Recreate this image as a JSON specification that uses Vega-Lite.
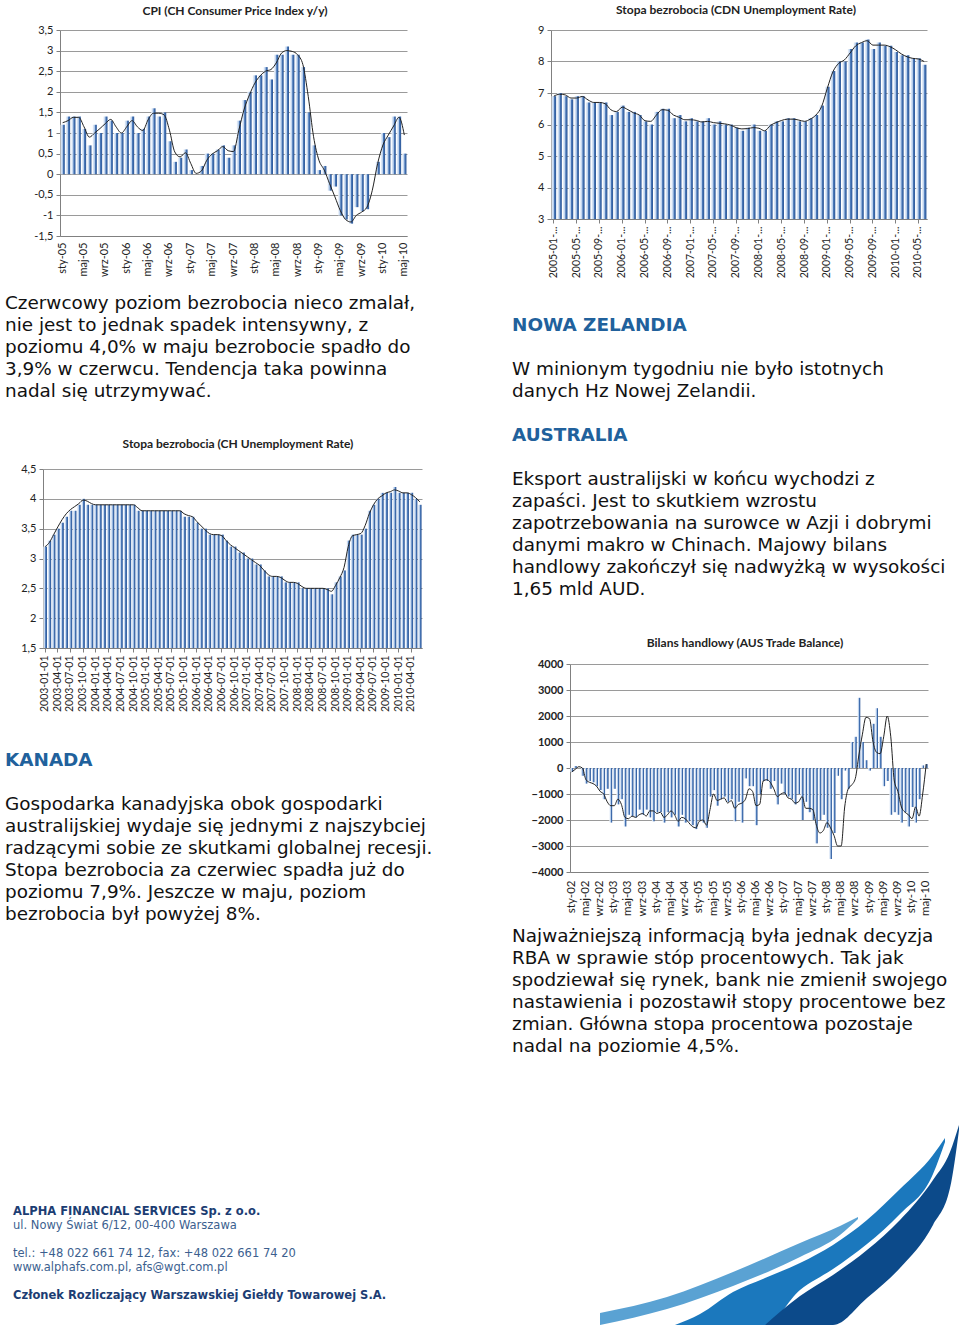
{
"$schema": "https://vega.github.io/schema/vega-lite/v6.json",
"background": "white",
"padding": {"left": 5, "top": 0, "right": 0, "bottom": 0},
"bounds": "flush",
"spacing": 507,
"config": {
  "view": {"stroke": null},
  "font": "Lato",
  "axis": {"labelFont": "Lato", "labelFontSize": 11, "labelColor": "#222", "domainColor": "#808080", "tickColor": "#808080", "gridColor": "#9a9a9a", "labelOverlap": false}
},
"datasets": {
"cpi": [
{"m":"sty-05","v":1.2,"t":1.25},{"m":"lut-05","v":1.4,"t":1.3},{"m":"mar-05","v":1.4,"t":1.38},{"m":"kwi-05","v":1.4,"t":1.38},{"m":"maj-05","v":1.1,"t":1.15},{"m":"cze-05","v":0.7,"t":0.9},{"m":"lip-05","v":1.2,"t":1.0},{"m":"sie-05","v":1.0,"t":1.11},{"m":"wrz-05","v":1.4,"t":1.23},{"m":"paź-05","v":1.3,"t":1.33},{"m":"lis-05","v":1.0,"t":1.15},{"m":"gru-05","v":1.0,"t":1.0},
{"m":"sty-06","v":1.3,"t":1.15},{"m":"lut-06","v":1.4,"t":1.3},{"m":"mar-06","v":1.0,"t":1.15},{"m":"kwi-06","v":1.1,"t":1.06},{"m":"maj-06","v":1.4,"t":1.32},{"m":"cze-06","v":1.6,"t":1.48},{"m":"lip-06","v":1.4,"t":1.48},{"m":"sie-06","v":1.5,"t":1.44},{"m":"wrz-06","v":0.8,"t":1.07},{"m":"paź-06","v":0.3,"t":0.54},{"m":"lis-06","v":0.4,"t":0.42},{"m":"gru-06","v":0.6,"t":0.52},
{"m":"sty-07","v":0.1,"t":0.26},{"m":"lut-07","v":0.0,"t":0.02},{"m":"mar-07","v":0.2,"t":0.08},{"m":"kwi-07","v":0.5,"t":0.34},{"m":"maj-07","v":0.5,"t":0.49},{"m":"cze-07","v":0.6,"t":0.57},{"m":"lip-07","v":0.7,"t":0.67},{"m":"sie-07","v":0.4,"t":0.57},{"m":"wrz-07","v":0.7,"t":0.55},{"m":"paź-07","v":1.3,"t":1.07},{"m":"lis-07","v":1.8,"t":1.58},{"m":"gru-07","v":2.0,"t":1.93},
{"m":"sty-08","v":2.4,"t":2.21},{"m":"lut-08","v":2.4,"t":2.39},{"m":"mar-08","v":2.6,"t":2.5},{"m":"kwi-08","v":2.3,"t":2.54},{"m":"maj-08","v":2.9,"t":2.7},{"m":"cze-08","v":2.9,"t":2.94},{"m":"lip-08","v":3.1,"t":3.0},{"m":"sie-08","v":2.9,"t":2.98},{"m":"wrz-08","v":2.9,"t":2.9},{"m":"paź-08","v":2.6,"t":2.66},{"m":"lis-08","v":1.5,"t":1.89},{"m":"gru-08","v":0.7,"t":0.91},
{"m":"sty-09","v":0.1,"t":0.34},{"m":"lut-09","v":0.2,"t":0.1},{"m":"mar-09","v":-0.4,"t":-0.23},{"m":"kwi-09","v":-0.3,"t":-0.55},{"m":"maj-09","v":-1.0,"t":-0.88},{"m":"cze-09","v":-1.1,"t":-1.1},{"m":"lip-09","v":-1.2,"t":-1.16},{"m":"sie-09","v":-0.8,"t":-1.0},{"m":"wrz-09","v":-0.9,"t":-0.92},{"m":"paź-09","v":-0.85,"t":-0.8},{"m":"lis-09","v":0.0,"t":-0.39},{"m":"gru-09","v":0.3,"t":0.26},
{"m":"sty-10","v":1.0,"t":0.71},{"m":"lut-10","v":0.9,"t":0.95},{"m":"mar-10","v":1.4,"t":1.17},{"m":"kwi-10","v":1.4,"t":1.38},{"m":"maj-10","v":0.5,"t":0.95}
],
"cdn": [
{"m":"2005-01-01","v":6.9,"t":6.9},{"m":"2005-02-01","v":7.0,"t":6.96},{"m":"2005-03-01","v":6.9,"t":6.94},{"m":"2005-04-01","v":6.8,"t":6.84},{"m":"2005-05-01","v":6.9,"t":6.84},{"m":"2005-06-01","v":6.9,"t":6.89},{"m":"2005-07-01","v":6.7,"t":6.78},{"m":"2005-08-01","v":6.7,"t":6.7},{"m":"2005-09-01","v":6.7,"t":6.7},{"m":"2005-10-01","v":6.7,"t":6.66},{"m":"2005-11-01","v":6.3,"t":6.47},{"m":"2005-12-01","v":6.4,"t":6.41},
{"m":"2006-01-01","v":6.6,"t":6.55},{"m":"2006-02-01","v":6.4,"t":6.47},{"m":"2006-03-01","v":6.4,"t":6.37},{"m":"2006-04-01","v":6.3,"t":6.3},{"m":"2006-05-01","v":6.1,"t":6.12},{"m":"2006-06-01","v":6.0,"t":6.1},{"m":"2006-07-01","v":6.4,"t":6.3},{"m":"2006-08-01","v":6.5,"t":6.47},{"m":"2006-09-01","v":6.5,"t":6.45},{"m":"2006-10-01","v":6.2,"t":6.3},{"m":"2006-11-01","v":6.3,"t":6.23},{"m":"2006-12-01","v":6.1,"t":6.15},
{"m":"2007-01-01","v":6.2,"t":6.15},{"m":"2007-02-01","v":6.1,"t":6.13},{"m":"2007-03-01","v":6.1,"t":6.08},{"m":"2007-04-01","v":6.2,"t":6.1},{"m":"2007-05-01","v":6.0,"t":6.06},{"m":"2007-06-01","v":6.1,"t":6.04},{"m":"2007-07-01","v":6.0,"t":6.02},{"m":"2007-08-01","v":6.0,"t":5.98},{"m":"2007-09-01","v":5.9,"t":5.9},{"m":"2007-10-01","v":5.8,"t":5.86},{"m":"2007-11-01","v":5.9,"t":5.87},{"m":"2007-12-01","v":6.0,"t":5.9},
{"m":"2008-01-01","v":5.8,"t":5.88},{"m":"2008-02-01","v":5.8,"t":5.8},{"m":"2008-03-01","v":6.0,"t":5.97},{"m":"2008-04-01","v":6.1,"t":6.06},{"m":"2008-05-01","v":6.1,"t":6.13},{"m":"2008-06-01","v":6.2,"t":6.17},{"m":"2008-07-01","v":6.2,"t":6.17},{"m":"2008-08-01","v":6.1,"t":6.14},{"m":"2008-09-01","v":6.1,"t":6.1},{"m":"2008-10-01","v":6.2,"t":6.17},{"m":"2008-11-01","v":6.3,"t":6.3},{"m":"2008-12-01","v":6.6,"t":6.57},
{"m":"2009-01-01","v":7.2,"t":7.15},{"m":"2009-02-01","v":7.7,"t":7.68},{"m":"2009-03-01","v":8.0,"t":7.94},{"m":"2009-04-01","v":8.0,"t":8.05},{"m":"2009-05-01","v":8.4,"t":8.27},{"m":"2009-06-01","v":8.6,"t":8.5},{"m":"2009-07-01","v":8.6,"t":8.6},{"m":"2009-08-01","v":8.7,"t":8.66},{"m":"2009-09-01","v":8.4,"t":8.52},{"m":"2009-10-01","v":8.6,"t":8.52},{"m":"2009-11-01","v":8.5,"t":8.52},{"m":"2009-12-01","v":8.5,"t":8.47},
{"m":"2010-01-01","v":8.3,"t":8.37},{"m":"2010-02-01","v":8.2,"t":8.24},{"m":"2010-03-01","v":8.2,"t":8.15},{"m":"2010-04-01","v":8.1,"t":8.1},{"m":"2010-05-01","v":8.1,"t":8.08},{"m":"2010-06-01","v":7.9,"t":8.0}
],
"ch": [
{"m":"2003-01-01","v":3.2,"t":3.2},{"m":"2003-02-01","v":3.3,"t":3.27},{"m":"2003-03-01","v":3.4,"t":3.4},{"m":"2003-04-01","v":3.5,"t":3.53},{"m":"2003-05-01","v":3.6,"t":3.65},{"m":"2003-06-01","v":3.7,"t":3.75},{"m":"2003-07-01","v":3.8,"t":3.82},{"m":"2003-08-01","v":3.8,"t":3.87},{"m":"2003-09-01","v":3.9,"t":3.92},{"m":"2003-10-01","v":4.0,"t":3.98},{"m":"2003-11-01","v":3.9,"t":3.96},{"m":"2003-12-01","v":3.9,"t":3.92},
{"m":"2004-01-01","v":3.9,"t":3.9},{"m":"2004-02-01","v":3.9,"t":3.9},{"m":"2004-03-01","v":3.9,"t":3.9},{"m":"2004-04-01","v":3.9,"t":3.9},{"m":"2004-05-01","v":3.9,"t":3.9},{"m":"2004-06-01","v":3.9,"t":3.9},{"m":"2004-07-01","v":3.9,"t":3.9},{"m":"2004-08-01","v":3.9,"t":3.9},{"m":"2004-09-01","v":3.9,"t":3.9},{"m":"2004-10-01","v":3.9,"t":3.9},{"m":"2004-11-01","v":3.8,"t":3.85},{"m":"2004-12-01","v":3.8,"t":3.8},
{"m":"2005-01-01","v":3.8,"t":3.8},{"m":"2005-02-01","v":3.8,"t":3.8},{"m":"2005-03-01","v":3.8,"t":3.8},{"m":"2005-04-01","v":3.8,"t":3.8},{"m":"2005-05-01","v":3.8,"t":3.8},{"m":"2005-06-01","v":3.8,"t":3.8},{"m":"2005-07-01","v":3.8,"t":3.8},{"m":"2005-08-01","v":3.8,"t":3.8},{"m":"2005-09-01","v":3.8,"t":3.8},{"m":"2005-10-01","v":3.7,"t":3.75},{"m":"2005-11-01","v":3.7,"t":3.72},{"m":"2005-12-01","v":3.7,"t":3.7},
{"m":"2006-01-01","v":3.6,"t":3.62},{"m":"2006-02-01","v":3.5,"t":3.55},{"m":"2006-03-01","v":3.5,"t":3.48},{"m":"2006-04-01","v":3.4,"t":3.42},{"m":"2006-05-01","v":3.4,"t":3.4},{"m":"2006-06-01","v":3.4,"t":3.4},{"m":"2006-07-01","v":3.4,"t":3.38},{"m":"2006-08-01","v":3.3,"t":3.3},{"m":"2006-09-01","v":3.2,"t":3.23},{"m":"2006-10-01","v":3.2,"t":3.18},{"m":"2006-11-01","v":3.1,"t":3.13},{"m":"2006-12-01","v":3.1,"t":3.08},
{"m":"2007-01-01","v":3.0,"t":3.03},{"m":"2007-02-01","v":3.0,"t":2.98},{"m":"2007-03-01","v":2.9,"t":2.93},{"m":"2007-04-01","v":2.9,"t":2.88},{"m":"2007-05-01","v":2.8,"t":2.8},{"m":"2007-06-01","v":2.7,"t":2.73},{"m":"2007-07-01","v":2.7,"t":2.7},{"m":"2007-08-01","v":2.7,"t":2.7},{"m":"2007-09-01","v":2.7,"t":2.68},{"m":"2007-10-01","v":2.6,"t":2.63},{"m":"2007-11-01","v":2.6,"t":2.6},{"m":"2007-12-01","v":2.6,"t":2.6},
{"m":"2008-01-01","v":2.6,"t":2.58},{"m":"2008-02-01","v":2.5,"t":2.53},{"m":"2008-03-01","v":2.5,"t":2.5},{"m":"2008-04-01","v":2.5,"t":2.5},{"m":"2008-05-01","v":2.5,"t":2.5},{"m":"2008-06-01","v":2.5,"t":2.5},{"m":"2008-07-01","v":2.5,"t":2.5},{"m":"2008-08-01","v":2.5,"t":2.48},{"m":"2008-09-01","v":2.4,"t":2.45},{"m":"2008-10-01","v":2.6,"t":2.55},{"m":"2008-11-01","v":2.7,"t":2.68},{"m":"2008-12-01","v":2.8,"t":2.85},
{"m":"2009-01-01","v":3.3,"t":3.2},{"m":"2009-02-01","v":3.4,"t":3.38},{"m":"2009-03-01","v":3.4,"t":3.4},{"m":"2009-04-01","v":3.4,"t":3.42},{"m":"2009-05-01","v":3.5,"t":3.55},{"m":"2009-06-01","v":3.8,"t":3.75},{"m":"2009-07-01","v":3.9,"t":3.9},{"m":"2009-08-01","v":4.0,"t":4.0},{"m":"2009-09-01","v":4.1,"t":4.05},{"m":"2009-10-01","v":4.1,"t":4.1},{"m":"2009-11-01","v":4.1,"t":4.12},{"m":"2009-12-01","v":4.2,"t":4.15},
{"m":"2010-01-01","v":4.1,"t":4.13},{"m":"2010-02-01","v":4.1,"t":4.1},{"m":"2010-03-01","v":4.1,"t":4.1},{"m":"2010-04-01","v":4.1,"t":4.07},{"m":"2010-05-01","v":4.0,"t":4.02},{"m":"2010-06-01","v":3.9,"t":3.95}
],
"aus": [
{"m":"sty-02","v":-150,"t":-150},{"m":"lut-02","v":80,"t":-50},{"m":"mar-02","v":0,"t":50},{"m":"kwi-02","v":-300,"t":0},{"m":"maj-02","v":-600,"t":-450},{"m":"cze-02","v":-500,"t":-550},{"m":"lip-02","v":-550,"t":-600},{"m":"sie-02","v":-700,"t":-700},{"m":"wrz-02","v":-850,"t":-900},{"m":"paź-02","v":-1200,"t":-1000},{"m":"lis-02","v":-800,"t":-1300},{"m":"gru-02","v":-2100,"t":-1450},
{"m":"sty-03","v":-800,"t":-1450},{"m":"lut-03","v":-1400,"t":-1200},{"m":"mar-03","v":-1200,"t":-1400},{"m":"kwi-03","v":-2250,"t":-1900},{"m":"maj-03","v":-1800,"t":-1950},{"m":"cze-03","v":-1850,"t":-1850},{"m":"lip-03","v":-1900,"t":-1900},{"m":"sie-03","v":-1600,"t":-1800},{"m":"wrz-03","v":-1800,"t":-1750},{"m":"paź-03","v":-1600,"t":-1850},{"m":"lis-03","v":-1900,"t":-1650},{"m":"gru-03","v":-2050,"t":-1650},
{"m":"sty-04","v":-1700,"t":-1750},{"m":"lut-04","v":-1700,"t":-1700},{"m":"mar-04","v":-2100,"t":-1900},{"m":"kwi-04","v":-1700,"t":-1800},{"m":"maj-04","v":-1900,"t":-1650},{"m":"cze-04","v":-1800,"t":-1800},{"m":"lip-04","v":-2250,"t":-2050},{"m":"sie-04","v":-1800,"t":-1900},{"m":"wrz-04","v":-2100,"t":-1950},{"m":"paź-04","v":-2050,"t":-2100},{"m":"lis-04","v":-2200,"t":-2250},{"m":"gru-04","v":-2350,"t":-2300},
{"m":"sty-05","v":-2000,"t":-2050},{"m":"lut-05","v":-2100,"t":-2000},{"m":"mar-05","v":-2300,"t":-2200},{"m":"kwi-05","v":-1100,"t":-1600},{"m":"maj-05","v":-850,"t":-1000},{"m":"cze-05","v":-1450,"t":-1250},{"m":"lip-05","v":-1200,"t":-1200},{"m":"sie-05","v":-1100,"t":-1150},{"m":"wrz-05","v":-1300,"t":-1350},{"m":"paź-05","v":-1200,"t":-1250},{"m":"lis-05","v":-2050,"t":-1550},{"m":"gru-05","v":-1300,"t":-1400},
{"m":"sty-06","v":-2100,"t":-1350},{"m":"lut-06","v":-400,"t":-1200},{"m":"mar-06","v":-700,"t":-800},{"m":"kwi-06","v":-700,"t":-900},{"m":"maj-06","v":-2200,"t":-1450},{"m":"cze-06","v":-1000,"t":-1400},{"m":"lip-06","v":-500,"t":-500},{"m":"sie-06","v":-500,"t":-450},{"m":"wrz-06","v":-800,"t":-550},{"m":"paź-06","v":-500,"t":-800},{"m":"lis-06","v":-1400,"t":-1100},{"m":"gru-06","v":-600,"t":-1000},
{"m":"sty-07","v":-1000,"t":-950},{"m":"lut-07","v":-1100,"t":-1150},{"m":"mar-07","v":-1200,"t":-1200},{"m":"kwi-07","v":-1400,"t":-1350},{"m":"maj-07","v":-1000,"t":-1300},{"m":"cze-07","v":-2000,"t":-1100},{"m":"lip-07","v":-1300,"t":-1550},{"m":"sie-07","v":-1700,"t":-1550},{"m":"wrz-07","v":-2000,"t":-1600},{"m":"paź-07","v":-2900,"t":-2200},{"m":"lis-07","v":-2000,"t":-2500},{"m":"gru-07","v":-1800,"t":-2400},
{"m":"sty-08","v":-2300,"t":-2100},{"m":"lut-08","v":-3500,"t":-2300},{"m":"mar-08","v":-2500,"t":-2600},{"m":"kwi-08","v":-300,"t":-3000},{"m":"maj-08","v":-1200,"t":-3000},{"m":"cze-08","v":-100,"t":-1500},{"m":"lip-08","v":-800,"t":-800},{"m":"sie-08","v":1000,"t":-650},{"m":"wrz-08","v":1200,"t":-400},{"m":"paź-08","v":2700,"t":500},{"m":"lis-08","v":1000,"t":1300},{"m":"gru-08","v":300,"t":1950},
{"m":"sty-09","v":-100,"t":1900},{"m":"lut-09","v":1700,"t":1000},{"m":"mar-09","v":2300,"t":600},{"m":"kwi-09","v":1200,"t":550},{"m":"maj-09","v":-700,"t":1200},{"m":"cze-09","v":-500,"t":2000},{"m":"lip-09","v":-1800,"t":1200},{"m":"sie-09","v":-1700,"t":-500},{"m":"wrz-09","v":-1800,"t":-900},{"m":"paź-09","v":-2100,"t":-1500},{"m":"lis-09","v":-1700,"t":-1700},{"m":"gru-09","v":-2250,"t":-1800},
{"m":"sty-10","v":-1500,"t":-1950},{"m":"lut-10","v":-2100,"t":-1500},{"m":"mar-10","v":-1200,"t":-1850},{"m":"kwi-10","v":100,"t":-1000},{"m":"maj-10","v":150,"t":150}
],
"txt": [
{"p":"L2","k":"b","line":1,"text":"Czerwcowy poziom bezrobocia nieco zmalał,"},
{"p":"L2","k":"b","line":2,"text":"nie jest to jednak spadek intensywny, z"},
{"p":"L2","k":"b","line":3,"text":"poziomu 4,0% w maju bezrobocie spadło do"},
{"p":"L2","k":"b","line":4,"text":"3,9% w czerwcu. Tendencja taka powinna"},
{"p":"L2","k":"b","line":5,"text":"nadal się utrzymywać."},
{"p":"L4","k":"h","line":0,"text":"KANADA"},
{"p":"L4","k":"b","line":2,"text":"Gospodarka kanadyjska obok gospodarki"},
{"p":"L4","k":"b","line":3,"text":"australijskiej wydaje się jednymi z najszybciej"},
{"p":"L4","k":"b","line":4,"text":"radzącymi sobie ze skutkami globalnej recesji."},
{"p":"L4","k":"b","line":5,"text":"Stopa bezrobocia za czerwiec spadła już do"},
{"p":"L4","k":"b","line":6,"text":"poziomu 7,9%. Jeszcze w maju, poziom"},
{"p":"L4","k":"b","line":7,"text":"bezrobocia był powyżej 8%."},
{"p":"L5","k":"fb","line":0,"text":"ALPHA FINANCIAL SERVICES Sp. z o.o."},
{"p":"L5","k":"f","line":1,"text":"ul. Nowy Świat 6/12, 00-400 Warszawa"},
{"p":"L5","k":"f","line":3,"text":"tel.: +48 022 661 74 12, fax: +48 022 661 74 20"},
{"p":"L5","k":"f","line":4,"text":"www.alphafs.com.pl, afs@wgt.com.pl"},
{"p":"L5","k":"fb","line":6,"text":"Członek Rozliczający Warszawskiej Giełdy Towarowej S.A."},
{"p":"R2","k":"h","line":0,"text":"NOWA ZELANDIA"},
{"p":"R2","k":"b","line":2,"text":"W minionym tygodniu nie było istotnych"},
{"p":"R2","k":"b","line":3,"text":"danych Hz Nowej Zelandii."},
{"p":"R2","k":"h","line":5,"text":"AUSTRALIA"},
{"p":"R2","k":"b","line":7,"text":"Eksport australijski w końcu wychodzi z"},
{"p":"R2","k":"b","line":8,"text":"zapaści. Jest to skutkiem wzrostu"},
{"p":"R2","k":"b","line":9,"text":"zapotrzebowania na surowce w Azji i dobrymi"},
{"p":"R2","k":"b","line":10,"text":"danymi makro w Chinach. Majowy bilans"},
{"p":"R2","k":"b","line":11,"text":"handlowy zakończył się nadwyżką w wysokości"},
{"p":"R2","k":"b","line":12,"text":"1,65 mld AUD."},
{"p":"R4","k":"b","line":0,"text":"Najważniejszą informacją była jednak decyzja"},
{"p":"R4","k":"b","line":1,"text":"RBA w sprawie stóp procentowych. Tak jak"},
{"p":"R4","k":"b","line":2,"text":"spodziewał się rynek, bank nie zmienił swojego"},
{"p":"R4","k":"b","line":3,"text":"nastawienia i pozostawił stopy procentowe bez"},
{"p":"R4","k":"b","line":4,"text":"zmian. Główna stopa procentowa pozostaje"},
{"p":"R4","k":"b","line":5,"text":"nadal na poziomie 4,5%."}
],
"swoosh": [
{"s":"a","x":0,"y":213,"y2":225},{"s":"a","x":67,"y":197,"y2":209},{"s":"a","x":133,"y":172,"y2":186},{"s":"a","x":200,"y":143,"y2":157},{"s":"a","x":240,"y":126,"y2":135},{"s":"a","x":258,"y":117,"y2":119},
{"s":"b","x":75,"y":225,"y2":225},{"s":"b","x":100,"y":214,"y2":225},{"s":"b","x":133,"y":192,"y2":225},{"s":"b","x":165,"y":178,"y2":225},{"s":"b","x":200,"y":163,"y2":190},{"s":"b","x":233,"y":145,"y2":169},{"s":"b","x":267,"y":120,"y2":144},{"s":"b","x":300,"y":89,"y2":114},{"s":"b","x":333,"y":55,"y2":74},{"s":"b","x":345,"y":38,"y2":42},
{"s":"c","x":165,"y":225,"y2":225},{"s":"c","x":200,"y":196,"y2":225},{"s":"c","x":233,"y":175,"y2":225},{"s":"c","x":267,"y":150,"y2":198},{"s":"c","x":300,"y":120,"y2":168},{"s":"c","x":333,"y":80,"y2":125},{"s":"c","x":350,"y":52,"y2":88},{"s":"c","x":359,"y":25,"y2":30}
]
},
"hconcat": [
{
"vconcat": [
{
"width": 430, "height": 236,
"title": {"text": "CPI (CH Consumer Price Index y/y)", "frame": "group", "anchor": "middle", "baseline": "middle", "offset": -23, "dx": 15, "fontSize": 12, "fontWeight": "bold", "color": "#222"},
"data": {"name": "cpi"},
"layer": [
{"mark": {"type": "bar", "stroke": null, "fill": {"gradient": "linear", "x1": 0, "y1": 0, "x2": 1, "y2": 0, "stops": [{"offset": 0, "color": "#f2f6fc"}, {"offset": 0.45, "color": "#b3cbea"}, {"offset": 0.6, "color": "#4a78b8"}, {"offset": 1, "color": "#2a5596"}]}},
 "encoding": {
  "x": {"field": "m", "type": "ordinal", "sort": null, "title": null, "scale": {"range": [55, 402], "paddingInner": 0.2, "paddingOuter": 0.1},
        "axis": {"values": ["sty-05","maj-05","wrz-05","sty-06","maj-06","wrz-06","sty-07","maj-07","wrz-07","sty-08","maj-08","wrz-08","sty-09","maj-09","wrz-09","sty-10","maj-10"], "labelAngle": -90, "ticks": false, "labelPadding": 6, "labelOverlap": false}},
  "y": {"field": "v", "type": "quantitative", "title": null, "scale": {"domain": [-1.5, 3.5], "range": [236, 30], "nice": false},
        "axis": {"values": [-1.5,-1,-0.5,0,0.5,1,1.5,2,2.5,3,3.5], "tickCount": 30, "labelExpr": "replace('' + datum.value, '.', ',')", "offset": -55, "tickSize": 4, "labelPadding": 3, "labelOverlap": false}},
  "y2": {"datum": 0}
 }},
{"mark": {"type": "line", "interpolate": "monotone", "color": "#222", "strokeWidth": 1},
 "encoding": {"x": {"field": "m", "type": "ordinal", "sort": null}, "y": {"field": "t", "type": "quantitative"}}}
]
},
{
"width": 430, "height": 184,
"data": {"name": "txt"},
"transform": [{"filter": "datum.p == 'L2'"}],
"mark": {"type": "text", "align": "left", "baseline": "middle", "font": "DejaVu Sans", "fontSize": 18.4, "color": "#111"},
"encoding": {
 "x": {"datum": 0, "type": "quantitative", "scale": {"domain": [0, 1]}, "axis": null},
 "y": {"field": "line", "type": "quantitative", "scale": {"domain": [0, 10], "range": [45, 265]}, "axis": null},
 "text": {"field": "text"}
}
},
{
"width": 430, "height": 228,
"title": {"text": "Stopa bezrobocia (CH Unemployment Rate)", "frame": "group", "anchor": "middle", "baseline": "middle", "offset": -36, "dx": 18, "fontSize": 12, "fontWeight": "bold", "color": "#222"},
"data": {"name": "ch"},
"layer": [
{"mark": {"type": "bar", "stroke": null, "fill": {"gradient": "linear", "x1": 0, "y1": 0, "x2": 1, "y2": 0, "stops": [{"offset": 0, "color": "#f2f6fc"}, {"offset": 0.45, "color": "#b3cbea"}, {"offset": 0.6, "color": "#4a78b8"}, {"offset": 1, "color": "#2a5596"}]}},
 "encoding": {
  "x": {"field": "m", "type": "ordinal", "sort": null, "title": null, "scale": {"range": [38, 417], "paddingInner": 0.15, "paddingOuter": 0.1},
        "axis": {"values": ["2003-01-01","2003-04-01","2003-07-01","2003-10-01","2004-01-01","2004-04-01","2004-07-01","2004-10-01","2005-01-01","2005-04-01","2005-07-01","2005-10-01","2006-01-01","2006-04-01","2006-07-01","2006-10-01","2007-01-01","2007-04-01","2007-07-01","2007-10-01","2008-01-01","2008-04-01","2008-07-01","2008-10-01","2009-01-01","2009-04-01","2009-07-01","2009-10-01","2010-01-01","2010-04-01"], "labelAngle": -90, "tickSize": 4, "labelPadding": 3, "labelFontSize": 10.5, "labelOverlap": false}},
  "y": {"field": "v", "type": "quantitative", "title": null, "scale": {"domain": [1.5, 4.5], "range": [228, 49], "nice": false},
        "axis": {"values": [1.5,2,2.5,3,3.5,4,4.5], "tickCount": 30, "labelExpr": "replace('' + datum.value, '.', ',')", "offset": -38, "tickSize": 4, "labelPadding": 3, "labelOverlap": false}},
  "y2": {"datum": 1.5}
 }},
{"mark": {"type": "line", "interpolate": "monotone", "color": "#222", "strokeWidth": 1},
 "encoding": {"x": {"field": "m", "type": "ordinal", "sort": null}, "y": {"field": "t", "type": "quantitative"}}}
]
},
{
"width": 430, "height": 352,
"data": {"name": "txt"},
"transform": [{"filter": "datum.p == 'L4'"}],
"encoding": {
 "x": {"datum": 0, "type": "quantitative", "scale": {"domain": [0, 1]}, "axis": null},
 "y": {"field": "line", "type": "quantitative", "scale": {"domain": [0, 10], "range": [112, 332]}, "axis": null},
 "text": {"field": "text"}
},
"layer": [
{"transform": [{"filter": "datum.k == 'h'"}], "mark": {"type": "text", "align": "left", "baseline": "middle", "font": "DejaVu Sans", "fontSize": 18.4, "fontWeight": "bold", "color": "#21619c"}},
{"transform": [{"filter": "datum.k == 'b'"}], "mark": {"type": "text", "align": "left", "baseline": "middle", "font": "DejaVu Sans", "fontSize": 18.4, "color": "#111"}}
]
},
{
"width": 430, "height": 325,
"data": {"name": "txt"},
"transform": [{"filter": "datum.p == 'L5'"}],
"encoding": {
 "x": {"datum": 0, "type": "quantitative", "scale": {"domain": [0, 1]}, "axis": null},
 "y": {"field": "line", "type": "quantitative", "scale": {"domain": [0, 10], "range": [212, 352]}, "axis": null},
 "text": {"field": "text"}
},
"layer": [
{"transform": [{"filter": "datum.k == 'fb'"}], "mark": {"type": "text", "align": "left", "baseline": "middle", "dx": 8, "font": "DejaVu Sans", "fontSize": 11.5, "fontWeight": "bold", "color": "#1c3d73"}},
{"transform": [{"filter": "datum.k == 'f'"}], "mark": {"type": "text", "align": "left", "baseline": "middle", "dx": 8, "font": "DejaVu Sans", "fontSize": 11.5, "color": "#3c5f8f"}}
]
}
],
"spacing": 0,
"bounds": "flush"
},
{
"vconcat": [
{
"width": 448, "height": 219,
"title": {"text": "Stopa bezrobocia (CDN Unemployment Rate)", "frame": "group", "anchor": "middle", "baseline": "middle", "offset": -22, "dx": 0, "fontSize": 12, "fontWeight": "bold", "color": "#222"},
"data": {"name": "cdn"},
"layer": [
{"mark": {"type": "bar", "stroke": null, "fill": {"gradient": "linear", "x1": 0, "y1": 0, "x2": 1, "y2": 0, "stops": [{"offset": 0, "color": "#f2f6fc"}, {"offset": 0.45, "color": "#b3cbea"}, {"offset": 0.6, "color": "#4a78b8"}, {"offset": 1, "color": "#2a5596"}]}},
 "encoding": {
  "x": {"field": "m", "type": "ordinal", "sort": null, "title": null, "scale": {"range": [39, 415], "paddingInner": 0.2, "paddingOuter": 0.1},
        "axis": {"values": ["2005-01-01","2005-05-01","2005-09-01","2006-01-01","2006-05-01","2006-09-01","2007-01-01","2007-05-01","2007-09-01","2008-01-01","2008-05-01","2008-09-01","2009-01-01","2009-05-01","2009-09-01","2010-01-01","2010-05-01"], "labelExpr": "substring(datum.label, 0, 8) + '...'", "labelAngle": -90, "tickSize": 4, "labelPadding": 3, "labelFontSize": 10.5, "labelOverlap": false}},
  "y": {"field": "v", "type": "quantitative", "title": null, "scale": {"domain": [3, 9], "range": [219, 30], "nice": false},
        "axis": {"values": [3,4,5,6,7,8,9], "tickCount": 30, "format": "d", "offset": -39, "tickSize": 4, "labelPadding": 3, "labelOverlap": false}},
  "y2": {"datum": 3}
 }},
{"mark": {"type": "line", "interpolate": "monotone", "color": "#222", "strokeWidth": 1},
 "encoding": {"x": {"field": "m", "type": "ordinal", "sort": null}, "y": {"field": "t", "type": "quantitative"}}}
]
},
{
"width": 448, "height": 401,
"data": {"name": "txt"},
"transform": [{"filter": "datum.p == 'R2'"}],
"encoding": {
 "x": {"datum": 0, "type": "quantitative", "scale": {"domain": [0, 1]}, "axis": null},
 "y": {"field": "line", "type": "quantitative", "scale": {"domain": [0, 10], "range": [106, 326]}, "axis": null},
 "text": {"field": "text"}
},
"layer": [
{"transform": [{"filter": "datum.k == 'h'"}], "mark": {"type": "text", "align": "left", "baseline": "middle", "font": "DejaVu Sans", "fontSize": 18.4, "fontWeight": "bold", "color": "#21619c"}},
{"transform": [{"filter": "datum.k == 'b'"}], "mark": {"type": "text", "align": "left", "baseline": "middle", "font": "DejaVu Sans", "fontSize": 18.4, "color": "#111"}}
]
},
{
"width": 448, "height": 252,
"title": {"text": "Bilans handlowy (AUS Trade Balance)", "frame": "group", "anchor": "middle", "baseline": "middle", "offset": -35, "dx": 9, "fontSize": 12, "fontWeight": "bold", "color": "#222"},
"data": {"name": "aus"},
"layer": [
{"mark": {"type": "bar", "stroke": null, "fill": {"gradient": "linear", "x1": 0, "y1": 0, "x2": 1, "y2": 0, "stops": [{"offset": 0, "color": "#f2f6fc"}, {"offset": 0.45, "color": "#b3cbea"}, {"offset": 0.6, "color": "#4a78b8"}, {"offset": 1, "color": "#2a5596"}]}},
 "encoding": {
  "x": {"field": "m", "type": "ordinal", "sort": null, "title": null, "scale": {"range": [58, 416], "paddingInner": 0.2, "paddingOuter": 0.1},
        "axis": {"values": ["sty-02","maj-02","wrz-02","sty-03","maj-03","wrz-03","sty-04","maj-04","wrz-04","sty-05","maj-05","wrz-05","sty-06","maj-06","wrz-06","sty-07","maj-07","wrz-07","sty-08","maj-08","wrz-08","sty-09","maj-09","wrz-09","sty-10","maj-10"], "labelAngle": -90, "ticks": false, "labelPadding": 8, "labelFontSize": 11.5, "labelOverlap": false}},
  "y": {"field": "v", "type": "quantitative", "title": null, "scale": {"domain": [-4000, 4000], "range": [252, 44], "nice": false},
        "axis": {"values": [-4000,-3000,-2000,-1000,0,1000,2000,3000,4000], "tickCount": 30, "format": "d", "offset": -58, "tickSize": 4, "labelPadding": 3, "labelFontWeight": "bold", "labelOverlap": false}},
  "y2": {"datum": 0}
 }},
{"mark": {"type": "line", "interpolate": "monotone", "color": "#222", "strokeWidth": 1},
 "encoding": {"x": {"field": "m", "type": "ordinal", "sort": null}, "y": {"field": "t", "type": "quantitative"}}}
]
},
{
"width": 448, "height": 228,
"data": {"name": "txt"},
"transform": [{"filter": "datum.p == 'R4'"}],
"mark": {"type": "text", "align": "left", "baseline": "middle", "font": "DejaVu Sans", "fontSize": 18.4, "color": "#111"},
"encoding": {
 "x": {"datum": 0, "type": "quantitative", "scale": {"domain": [0, 1]}, "axis": null},
 "y": {"field": "line", "type": "quantitative", "scale": {"domain": [0, 10], "range": [64, 284]}, "axis": null},
 "text": {"field": "text"}
}
},
{
"width": 448, "height": 225,
"data": {"name": "swoosh"},
"mark": {"type": "area", "interpolate": "monotone"},
"encoding": {
 "x": {"field": "x", "type": "quantitative", "scale": {"domain": [0, 360], "range": [88, 448]}, "axis": null},
 "y": {"field": "y", "type": "quantitative", "scale": {"domain": [0, 225], "range": [0, 225]}, "axis": null},
 "y2": {"field": "y2"},
 "color": {"field": "s", "type": "nominal", "scale": {"domain": ["a", "b", "c"], "range": ["#5aa2d3", "#1b78bd", "#0c4a8a"]}, "legend": null}
}
}
],
"spacing": 0,
"bounds": "flush"
}
]
}
